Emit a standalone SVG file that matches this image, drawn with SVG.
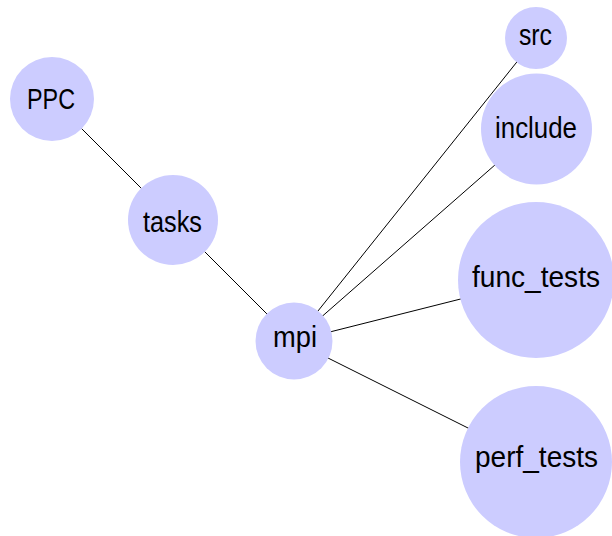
<svg xmlns="http://www.w3.org/2000/svg" width="612" height="536" viewBox="0 0 612 536">
<style>
.n{fill:#ccccff;stroke:none}
.t{font-family:"Liberation Sans",Arial,sans-serif;font-size:29px;fill:#000;text-anchor:middle}
.e{stroke:#000;stroke-width:1;fill:none}
</style>
<rect width="612" height="536" fill="#fff"/>
<g id="connectors">
<line class="e" x1="52" y1="99" x2="173" y2="220"/>
<line class="e" x1="173" y1="220" x2="294" y2="341"/>
<line class="e" x1="294" y1="341" x2="536" y2="38"/>
<line class="e" x1="294" y1="341" x2="536" y2="129"/>
<line class="e" x1="294" y1="341" x2="536" y2="280"/>
<line class="e" x1="294" y1="341" x2="536" y2="462"/>
</g>
<g id="PPC"><circle class="n" cx="52" cy="99" r="42"/><text class="t" x="51" y="109" textLength="48" lengthAdjust="spacingAndGlyphs">PPC</text></g>
<g id="tasks"><circle class="n" cx="173" cy="220" r="45"/><text class="t" x="172.5" y="232" textLength="59" lengthAdjust="spacingAndGlyphs">tasks</text></g>
<g id="mpi"><circle class="n" cx="294" cy="341" r="38.5"/><text class="t" x="295" y="347" textLength="44" lengthAdjust="spacingAndGlyphs">mpi</text></g>
<g id="src"><circle class="n" cx="536" cy="38" r="31"/><text class="t" x="535.5" y="45" textLength="33" lengthAdjust="spacingAndGlyphs">src</text></g>
<g id="include"><circle class="n" cx="536.5" cy="129" r="55.5"/><text class="t" x="536" y="138" textLength="82" lengthAdjust="spacingAndGlyphs">include</text></g>
<g id="func_tests"><circle class="n" cx="536" cy="280" r="78"/><text class="t" x="536" y="287" textLength="128" lengthAdjust="spacingAndGlyphs">func_tests</text></g>
<g id="perf_tests"><circle class="n" cx="536" cy="462" r="76"/><text class="t" x="536.5" y="467" textLength="123" lengthAdjust="spacingAndGlyphs">perf_tests</text></g>
</svg>
